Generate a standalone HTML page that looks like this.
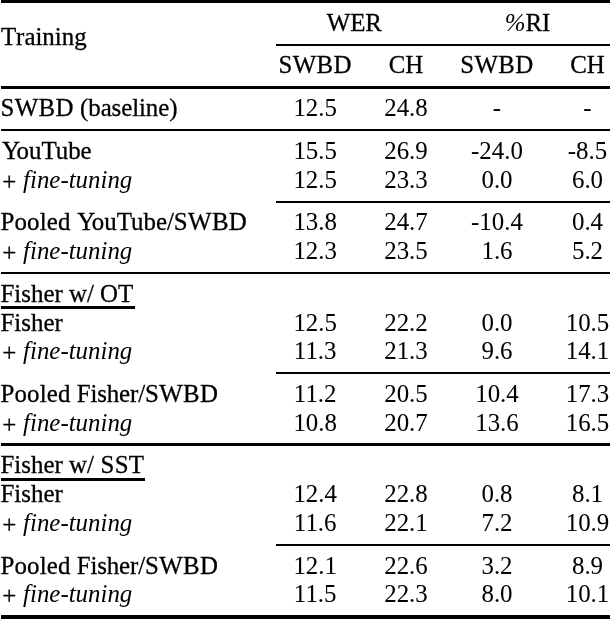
<!DOCTYPE html>
<html><head><meta charset="utf-8"><title>table</title>
<style>
html,body{margin:0;padding:0;background:#fff;}
#w{position:absolute;left:0;top:0;width:610px;height:620px;will-change:transform;}
body{width:610px;height:620px;position:relative;overflow:hidden;font-family:"Liberation Serif",serif;font-size:24.9px;color:#000;}
.t{position:absolute;white-space:nowrap;line-height:30px;height:30px;-webkit-text-stroke:0.3px #000;}
.k{letter-spacing:0.35px}
.y{padding-left:1.4px;margin-right:-3.4px}
.o{letter-spacing:0.15px}
.b{letter-spacing:-0.08px}
.s3{letter-spacing:0.25px;padding-left:0.5px}
.fs{letter-spacing:-0.14px}
.y2{padding-left:0.4px;margin-right:-3.4px}
.p{position:relative;left:1.85px;top:2px}
.t i{-webkit-text-stroke:0}
.t i.f{position:relative;left:2.3px;}
.n{-webkit-text-stroke:0.05px #000}
.c{width:200px;text-align:center;}
.l{position:absolute;background:#000;}
i{font-style:italic}
</style></head><body><div id="w">

<div class="l" style="left:1px;top:0px;width:609px;height:3px"></div>
<div class="l" style="left:276px;top:44px;width:334px;height:2px"></div>
<div class="l" style="left:1px;top:86px;width:609px;height:3px"></div>
<div class="l" style="left:1px;top:129px;width:609px;height:2px"></div>
<div class="l" style="left:276px;top:201px;width:334px;height:2px"></div>
<div class="l" style="left:1px;top:272px;width:609px;height:2px"></div>
<div class="l" style="left:276px;top:372px;width:334px;height:2px"></div>
<div class="l" style="left:1px;top:443px;width:609px;height:3px"></div>
<div class="l" style="left:276px;top:544px;width:334px;height:2px"></div>
<div class="l" style="left:1px;top:615px;width:609px;height:4px"></div>
<div class="l" style="left:1px;top:306px;width:134px;height:3px"></div>
<div class="l" style="left:1px;top:478px;width:144px;height:3px"></div>
<div class="t" style="left:0.90px;top:21.60px;font-kerning:none;">Training</div>
<div class="t c" style="left:254.30px;top:7.60px;">WER</div>
<div class="t c" style="left:427.60px;top:7.60px;"><i>%</i>RI</div>
<div class="t c" style="left:215.20px;top:49.60px;"><span class=k>SWBD</span></div>
<div class="t c" style="left:306.00px;top:49.60px;">CH</div>
<div class="t c" style="left:397.00px;top:49.60px;"><span class=k>SWBD</span></div>
<div class="t c" style="left:487.50px;top:49.60px;">CH</div>
<div class="t" style="left:0.50px;top:92.60px;"><span class=k>SWBD</span> <span class=b>(baseline)</span></div>
<div class="t c" style="left:215.20px;top:92.60px;"><span class=n>12.5</span></div>
<div class="t c" style="left:306.00px;top:92.60px;"><span class=n>24.8</span></div>
<div class="t c" style="left:397.00px;top:92.60px;"><span class=n>-</span></div>
<div class="t c" style="left:487.50px;top:92.60px;"><span class=n>-</span></div>
<div class="t" style="left:0.50px;top:135.60px;"><span class=y>Y</span>ouTube</div>
<div class="t c" style="left:215.20px;top:135.60px;"><span class=n>15.5</span></div>
<div class="t c" style="left:306.00px;top:135.60px;"><span class=n>26.9</span></div>
<div class="t c" style="left:397.00px;top:135.60px;"><span class=n>-24.0</span></div>
<div class="t c" style="left:487.50px;top:135.60px;"><span class=n>-8.5</span></div>
<div class="t" style="left:0.50px;top:164.60px;"><span class=p>+</span> <i class=f>fine-tuning</i></div>
<div class="t c" style="left:215.20px;top:164.60px;"><span class=n>12.5</span></div>
<div class="t c" style="left:306.00px;top:164.60px;"><span class=n>23.3</span></div>
<div class="t c" style="left:397.00px;top:164.60px;"><span class=n>0.0</span></div>
<div class="t c" style="left:487.50px;top:164.60px;"><span class=n>6.0</span></div>
<div class="t" style="left:0.50px;top:206.60px;"><span class=o>Pooled</span> <span class=y2>Y</span>ouTube/<span class=k>SWBD</span></div>
<div class="t c" style="left:215.20px;top:206.60px;"><span class=n>13.8</span></div>
<div class="t c" style="left:306.00px;top:206.60px;"><span class=n>24.7</span></div>
<div class="t c" style="left:397.00px;top:206.60px;"><span class=n>-10.4</span></div>
<div class="t c" style="left:487.50px;top:206.60px;"><span class=n>0.4</span></div>
<div class="t" style="left:0.50px;top:235.60px;"><span class=p>+</span> <i class=f>fine-tuning</i></div>
<div class="t c" style="left:215.20px;top:235.60px;"><span class=n>12.3</span></div>
<div class="t c" style="left:306.00px;top:235.60px;"><span class=n>23.5</span></div>
<div class="t c" style="left:397.00px;top:235.60px;"><span class=n>1.6</span></div>
<div class="t c" style="left:487.50px;top:235.60px;"><span class=n>5.2</span></div>
<div class="t" style="left:0.50px;top:278.60px;">Fisher w/ OT</div>
<div class="t" style="left:0.50px;top:307.60px;">Fisher</div>
<div class="t c" style="left:215.20px;top:307.60px;"><span class=n>12.5</span></div>
<div class="t c" style="left:306.00px;top:307.60px;"><span class=n>22.2</span></div>
<div class="t c" style="left:397.00px;top:307.60px;"><span class=n>0.0</span></div>
<div class="t c" style="left:487.50px;top:307.60px;"><span class=n>10.5</span></div>
<div class="t" style="left:0.50px;top:335.60px;"><span class=p>+</span> <i class=f>fine-tuning</i></div>
<div class="t c" style="left:215.20px;top:335.60px;"><span class=n>11.3</span></div>
<div class="t c" style="left:306.00px;top:335.60px;"><span class=n>21.3</span></div>
<div class="t c" style="left:397.00px;top:335.60px;"><span class=n>9.6</span></div>
<div class="t c" style="left:487.50px;top:335.60px;"><span class=n>14.1</span></div>
<div class="t" style="left:0.50px;top:378.60px;"><span class=o>Pooled</span> <span class=fs>Fisher/</span><span class=k>SWBD</span></div>
<div class="t c" style="left:215.20px;top:378.60px;"><span class=n>11.2</span></div>
<div class="t c" style="left:306.00px;top:378.60px;"><span class=n>20.5</span></div>
<div class="t c" style="left:397.00px;top:378.60px;"><span class=n>10.4</span></div>
<div class="t c" style="left:487.50px;top:378.60px;"><span class=n>17.3</span></div>
<div class="t" style="left:0.50px;top:407.60px;"><span class=p>+</span> <i class=f>fine-tuning</i></div>
<div class="t c" style="left:215.20px;top:407.60px;"><span class=n>10.8</span></div>
<div class="t c" style="left:306.00px;top:407.60px;"><span class=n>20.7</span></div>
<div class="t c" style="left:397.00px;top:407.60px;"><span class=n>13.6</span></div>
<div class="t c" style="left:487.50px;top:407.60px;"><span class=n>16.5</span></div>
<div class="t" style="left:0.50px;top:449.60px;">Fisher w/ <span class=s3>SST</span></div>
<div class="t" style="left:0.50px;top:478.60px;">Fisher</div>
<div class="t c" style="left:215.20px;top:478.60px;"><span class=n>12.4</span></div>
<div class="t c" style="left:306.00px;top:478.60px;"><span class=n>22.8</span></div>
<div class="t c" style="left:397.00px;top:478.60px;"><span class=n>0.8</span></div>
<div class="t c" style="left:487.50px;top:478.60px;"><span class=n>8.1</span></div>
<div class="t" style="left:0.50px;top:507.60px;"><span class=p>+</span> <i class=f>fine-tuning</i></div>
<div class="t c" style="left:215.20px;top:507.60px;"><span class=n>11.6</span></div>
<div class="t c" style="left:306.00px;top:507.60px;"><span class=n>22.1</span></div>
<div class="t c" style="left:397.00px;top:507.60px;"><span class=n>7.2</span></div>
<div class="t c" style="left:487.50px;top:507.60px;"><span class=n>10.9</span></div>
<div class="t" style="left:0.50px;top:550.60px;"><span class=o>Pooled</span> <span class=fs>Fisher/</span><span class=k>SWBD</span></div>
<div class="t c" style="left:215.20px;top:550.60px;"><span class=n>12.1</span></div>
<div class="t c" style="left:306.00px;top:550.60px;"><span class=n>22.6</span></div>
<div class="t c" style="left:397.00px;top:550.60px;"><span class=n>3.2</span></div>
<div class="t c" style="left:487.50px;top:550.60px;"><span class=n>8.9</span></div>
<div class="t" style="left:0.50px;top:578.60px;"><span class=p>+</span> <i class=f>fine-tuning</i></div>
<div class="t c" style="left:215.20px;top:578.60px;"><span class=n>11.5</span></div>
<div class="t c" style="left:306.00px;top:578.60px;"><span class=n>22.3</span></div>
<div class="t c" style="left:397.00px;top:578.60px;"><span class=n>8.0</span></div>
<div class="t c" style="left:487.50px;top:578.60px;"><span class=n>10.1</span></div>
</div></body></html>
